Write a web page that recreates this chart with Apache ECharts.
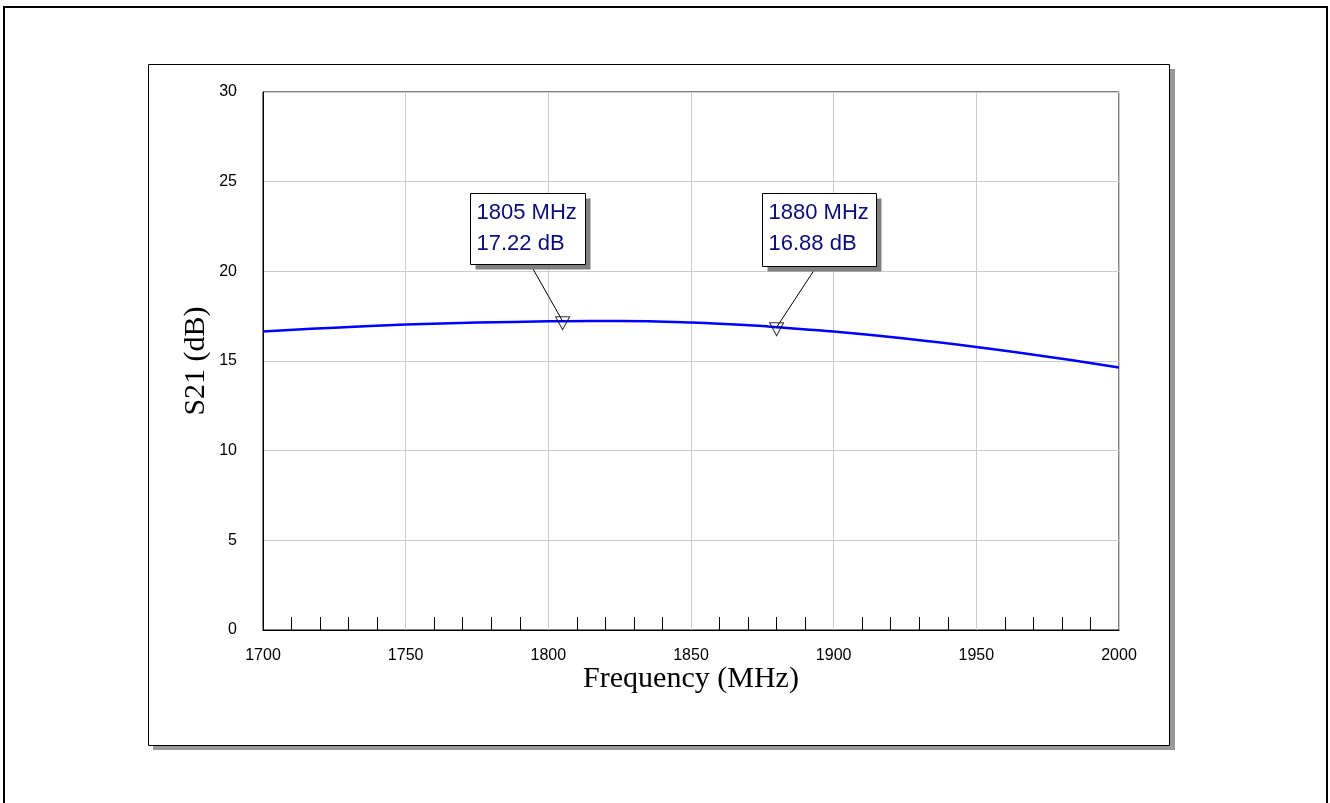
<!DOCTYPE html>
<html>
<head>
<meta charset="utf-8">
<script src="https://cdn.jsdelivr.net/npm/echarts@6/dist/echarts.min.js"></script>
<style>
  html, body { margin: 0; padding: 0; background: #fff; }
  #chart { width: 1330px; height: 803px; }
</style>
</head>
<body>
<div id="chart"></div>
<script>
// ---- data ----
const freqMHz = [1700, 1725, 1750, 1775, 1800, 1805, 1825, 1850, 1875, 1880, 1900, 1925, 1950, 1975, 2000];
const s21dB   = [16.64, 16.86, 17.03, 17.14, 17.21, 17.22, 17.23, 17.14, 16.95, 16.88, 16.64, 16.25, 15.78, 15.24, 14.64];
const markerFreq = [1805, 1880];
const markerDB   = [17.22, 16.88];
const xTicks = [1700, 1750, 1800, 1850, 1900, 1950, 2000];
const yTicks = [0, 5, 10, 15, 20, 25, 30];

// ---- layout / style for callouts (pixel offsets from marker) ----
const calloutLayout = [
  { dx: -93, dy: -128, w: 115, h: 71, lx: 60 },
  { dx: -15, dy: -134, w: 114, h: 73, lx: 54 }
];

const chart = echarts.init(document.getElementById('chart'), null, { renderer: 'canvas' });

const curve = freqMHz.map((f, i) => [f, s21dB[i]]);
const markers = markerFreq.map((f, i) => [f, markerDB[i]]);

const option = {
  backgroundColor: '#ffffff',
  animation: false,
  graphic: {
    elements: [
      { type: 'rect', z: -20, shape: { x: 4, y: 7, width: 1323, height: 820 },
        style: { fill: '#fff', stroke: '#000', lineWidth: 2 } },
      { type: 'rect', z: -19, shape: { x: 153, y: 69, width: 1022, height: 681 },
        style: { fill: '#999999' } },
      { type: 'rect', z: -18, shape: { x: 148.5, y: 64.5, width: 1021, height: 681 },
        style: { fill: '#fff', stroke: '#000', lineWidth: 1 } }
    ]
  },
  grid: {
    left: 263, top: 92, width: 856, height: 538,
    show: true, borderColor: '#000', borderWidth: 1, backgroundColor: 'transparent'
  },
  xAxis: {
    type: 'value', min: 1700, max: 2000, interval: 50,
    name: 'Frequency (MHz)', nameLocation: 'middle', nameGap: 34, nameMoveOverlap: false,
    nameTextStyle: { fontFamily: 'Liberation Serif', fontSize: 30, color: '#000' },
    axisLine: { show: true, lineStyle: { color: '#000', width: 1 } },
    axisTick: { show: false, inside: true },
    minorTick: { show: true, splitNumber: 5, length: 13, lineStyle: { color: '#000', width: 1 } },
    axisLabel: { color: '#000', fontFamily: 'Liberation Sans', fontSize: 16, margin: 18,
      formatter: v => xTicks.includes(v) ? String(v) : '' },
    splitLine: { show: true, lineStyle: { color: '#cccccc', width: 1 } }
  },
  yAxis: {
    type: 'value', min: 0, max: 30, interval: 5,
    name: 'S21 (dB)', nameLocation: 'middle', nameGap: 52, nameMoveOverlap: false,
    nameTextStyle: { fontFamily: 'Liberation Serif', fontSize: 30, color: '#000' },
    axisLine: { show: true, lineStyle: { color: '#000', width: 1 } },
    axisTick: { show: false },
    axisLabel: { color: '#000', fontFamily: 'Liberation Sans', fontSize: 16, margin: 26,
      formatter: v => yTicks.includes(v) ? String(v) : '' },
    splitLine: { show: true, lineStyle: { color: '#cccccc', width: 1 } }
  },
  series: [
    {
      type: 'line', data: curve, smooth: 0.4, showSymbol: false, z: 3,
      lineStyle: { color: '#0000ff', width: 2.5 }
    },
    {
      type: 'scatter', data: markers, z: 4,
      symbol: 'triangle', symbolRotate: 180, symbolSize: [14, 13], symbolOffset: [0, 2],
      itemStyle: { color: 'rgba(0,0,0,0)', borderColor: '#000', borderWidth: 1 }
    },
    {
      type: 'custom', data: markers, z: 5,
      renderItem: (params, api) => {
        const f = api.value(0), v = api.value(1);
        const p = api.coord([f, v]);
        const L = calloutLayout[params.dataIndex];
        const bx = Math.round(p[0] + L.dx) + 0.5, by = Math.round(p[1] + L.dy) + 0.5;
        return {
          type: 'group',
          children: [
            { type: 'line', shape: { x1: bx + L.lx, y1: by + L.h, x2: p[0], y2: p[1] },
              style: { stroke: '#000', lineWidth: 1 } },
            { type: 'rect', shape: { x: bx + 5, y: by + 5, width: L.w, height: L.h },
              style: { fill: '#808080' } },
            { type: 'rect', shape: { x: bx, y: by, width: L.w, height: L.h },
              style: { fill: '#fff', stroke: '#000', lineWidth: 1 } },
            { type: 'text', x: bx + 6, y: by + 4,
              style: { text: f + ' MHz\n' + v.toFixed(2) + ' dB', fill: '#0c0c7a',
                font: '22px "Liberation Sans"', lineHeight: 31, verticalAlign: 'top', align: 'left' } }
          ]
        };
      }
    }
  ]
};
chart.setOption(option);
</script>
</body>
</html>
